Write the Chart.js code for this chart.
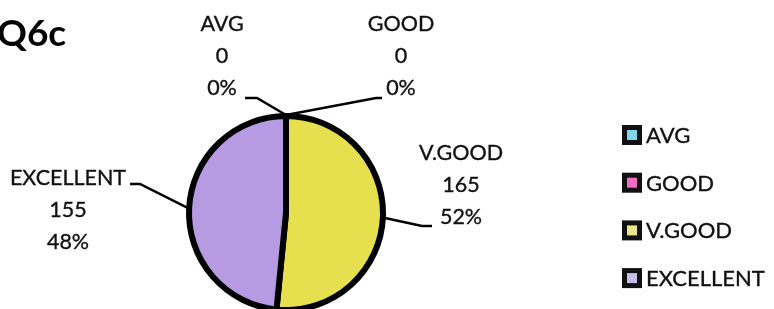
<!DOCTYPE html>
<html><head><meta charset="utf-8">
<script src="https://cdn.jsdelivr.net/npm/chart.js@4/dist/chart.umd.min.js"></script>
<style>
html,body{margin:0;padding:0;background:#fff;overflow:hidden;width:774px;height:309px;}
#wrap{position:relative;width:774px;height:330px;}
</style></head><body>
<div id="wrap"><canvas id="c" width="774" height="330"></canvas></div>
<script>
const title = "Q6c";
const categories = ["AVG", "GOOD", "V.GOOD", "EXCELLENT"];
const counts = [0, 0, 165, 155];
const sliceColors = ["#6fcfe6", "#ee67bd", "#e6df4e", "#b79be2"];
const legendColors = ["#7fd6ee", "#f06cc2", "#e9e98a", "#c9bcea"];

const FONT = "Lato, 'Open Sans', sans-serif";
const total = counts.reduce((a, b) => a + b, 0);

// label block placement (relative to pie centre) and leader elbows
const labelLayout = [
  {dx: -64, dy: -157, elbow: [-29, -115], end: [-41, -115]},
  {dx: 115, dy: -157, elbow: [90, -115], end: [96, -115]},
  {dx: 175, dy: -28, elbow: [136, 13], end: [146, 13]},
  {dx: -218, dy: -3, elbow: [-146, -29], end: [-156, -29]}
];

function boldText(ctx, t, x, y) {
  ctx.fillText(t, x, y);
  ctx.strokeText(t, x, y);
}

const labelPlugin = {
  id: 'pieLabels',
  afterDatasetsDraw(chart) {
    const ctx = chart.ctx;
    const meta = chart.getDatasetMeta(0);
    ctx.save();
    ctx.fillStyle = '#000';
    ctx.font = "bold 37px " + FONT;
    ctx.textAlign = 'left';
    ctx.textBaseline = 'alphabetic';
    ctx.fillText(title, -3, 46);

    meta.data.forEach((arc, i) => {
      const p = arc.getProps(['x', 'y', 'startAngle', 'endAngle', 'outerRadius'], true);
      const mid = (p.startAngle + p.endAngle) / 2;
      const ax = p.x + Math.cos(mid) * (p.outerRadius + 1);
      const ay = p.y + Math.sin(mid) * (p.outerRadius + 1);
      const L = labelLayout[i];
      ctx.strokeStyle = '#000';
      ctx.lineWidth = 2.5;
      ctx.beginPath();
      ctx.moveTo(ax, ay);
      ctx.lineTo(p.x + L.elbow[0], p.y + L.elbow[1]);
      ctx.lineTo(p.x + L.end[0], p.y + L.end[1]);
      ctx.stroke();
      const pct = Math.round(counts[i] / total * 100) + '%';
      const lines = [categories[i], String(counts[i]), pct];
      ctx.font = "21.5px " + FONT;
      ctx.textAlign = 'center';
      ctx.textBaseline = 'middle';
      ctx.fillStyle = '#111';
      ctx.strokeStyle = '#111';
      ctx.lineWidth = 0.35;
      const cx = p.x + L.dx, cy = p.y + L.dy;
      lines.forEach((t, k) => boldText(ctx, t, cx, cy + (k - 1) * 32));
    });

    // legend
    const lx = 622, ly0 = 135, step = 47.7;
    categories.forEach((c, i) => {
      const y = ly0 + i * step;
      ctx.fillStyle = '#111';
      ctx.fillRect(lx, y - 10, 20, 20);
      ctx.fillStyle = legendColors[i];
      ctx.fillRect(lx + 5, y - 5, 10, 10);
      ctx.fillStyle = '#111';
      ctx.strokeStyle = '#111';
      ctx.lineWidth = 0.35;
      ctx.font = "22px " + FONT;
      ctx.textAlign = 'left';
      ctx.textBaseline = 'middle';
      boldText(ctx, c, lx + 24, y + 1);
    });
    ctx.restore();
  }
};

new Chart(document.getElementById('c'), {
  type: 'pie',
  data: {
    labels: categories,
    datasets: [{
      data: counts,
      backgroundColor: sliceColors,
      borderColor: '#000',
      borderWidth: 6
    }]
  },
  options: {
    responsive: false,
    animation: false,
    layout: {padding: {left: 186, right: 388, top: 113, bottom: 17}},
    plugins: {legend: {display: false}, tooltip: {enabled: false}, title: {display: false}}
  },
  plugins: [labelPlugin]
});
</script>
</body></html>
